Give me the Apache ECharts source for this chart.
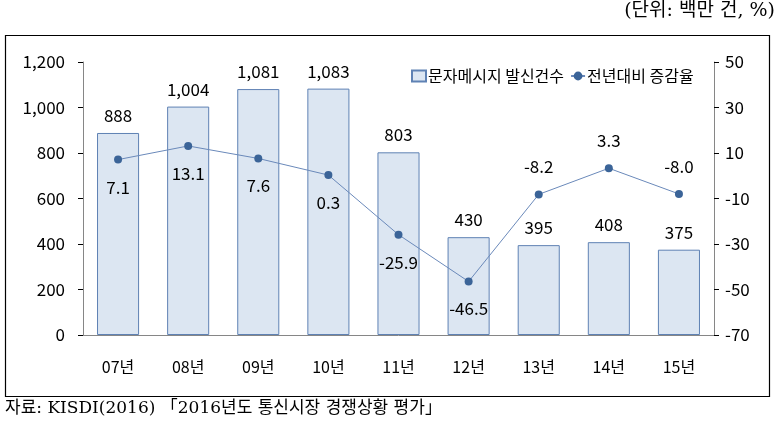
<!DOCTYPE html>
<html><head><meta charset="utf-8">
<script src="https://cdn.jsdelivr.net/npm/echarts@6/dist/echarts.min.js"></script>
<style>html,body{margin:0;padding:0;background:#fff}#c{width:782px;height:433px}</style>
</head><body><div id="c"></div>
<script>
const categories = ['07년','08년','09년','10년','11년','12년','13년','14년','15년'];
const messages = [888, 1004, 1081, 1083, 803, 430, 395, 408, 375];
const growth = [7.1, 13.1, 7.6, 0.3, -25.9, -46.5, -8.2, 3.3, -8.0];
const labelBelow = [true, true, true, true, true, true, false, false, false];

const FONT = '"Noto Sans CJK KR", "Noto Sans", sans-serif';
const chart = echarts.init(document.getElementById('c'));
chart.setOption({
  animation: false,
  textStyle: { fontFamily: FONT },
  graphic: [
    { type: 'rect', shape: { x: 5.5, y: 35.5, width: 764, height: 361 }, style: { fill: 'none', stroke: '#000', lineWidth: 1.2 } },
    { type: 'text', right: 7, top: 2, style: { text: '(단위: 백만 건, %)', font: '19px "DejaVu Serif", "Noto Sans CJK KR", serif', fill: '#000' } },
    { type: 'text', left: 5, top: 400, style: { text: '자료: KISDI(2016) 「2016년도 통신시장 경쟁상황 평가」', font: '17px "DejaVu Serif", "Noto Sans CJK KR", serif', fill: '#000' } }
  ],
  legend: {
    left: 406, top: 63, itemGap: 6, itemWidth: 14, itemHeight: 11,
    textStyle: { fontSize: 16, color: '#000', fontFamily: FONT, padding: [0,0,0,-3] },
    data: [
      { name: '문자메시지 발신건수', icon: 'rect' },
      { name: '전년대비 증감율' }
    ]
  },
  grid: { left: 83, right: 68, top: 62, bottom: 98 },
  xAxis: {
    type: 'category', data: categories,
    axisLine: { lineStyle: { color: '#868686' } },
    axisTick: { length: 5, lineStyle: { color: '#000' } },
    axisLabel: { color: '#000', fontSize: 16, margin: 24 }
  },
  yAxis: [
    { type: 'value', min: 0, max: 1200, interval: 200,
      axisLine: { show: true, lineStyle: { color: '#868686' } },
      axisTick: { show: true, length: 5, lineStyle: { color: '#000' } },
      splitLine: { show: false },
      axisLabel: { color: '#000', fontSize: 17, margin: 18,
        formatter: v => v.toLocaleString('en-US') } },
    { type: 'value', min: -70, max: 50, interval: 20,
      axisLine: { show: true, lineStyle: { color: '#868686' } },
      axisTick: { show: true, length: 5, lineStyle: { color: '#000' } },
      splitLine: { show: false },
      axisLabel: { color: '#000', fontSize: 17, margin: 11 } }
  ],
  series: [
    { name: '문자메시지 발신건수', type: 'bar', data: messages, barWidth: '60%',
      itemStyle: { color: '#DCE6F2', borderColor: '#5F82B4', borderWidth: 1 },
      label: { show: true, position: 'top', distance: 9, color: '#000', fontSize: 17,
        formatter: p => p.value.toLocaleString('en-US') } },
    { name: '전년대비 증감율', type: 'line', yAxisIndex: 1,
      data: growth.map((v, i) => ({ value: v, label: { position: labelBelow[i] ? 'bottom' : 'top', distance: 15 } })),
      symbol: 'circle', symbolSize: 8,
      lineStyle: { color: '#6A89BA', width: 1 },
      itemStyle: { color: '#3B6498' },
      label: { show: true, color: '#000', fontSize: 17, formatter: p => p.value.toFixed(1) } }
  ]
});
</script></body></html>
